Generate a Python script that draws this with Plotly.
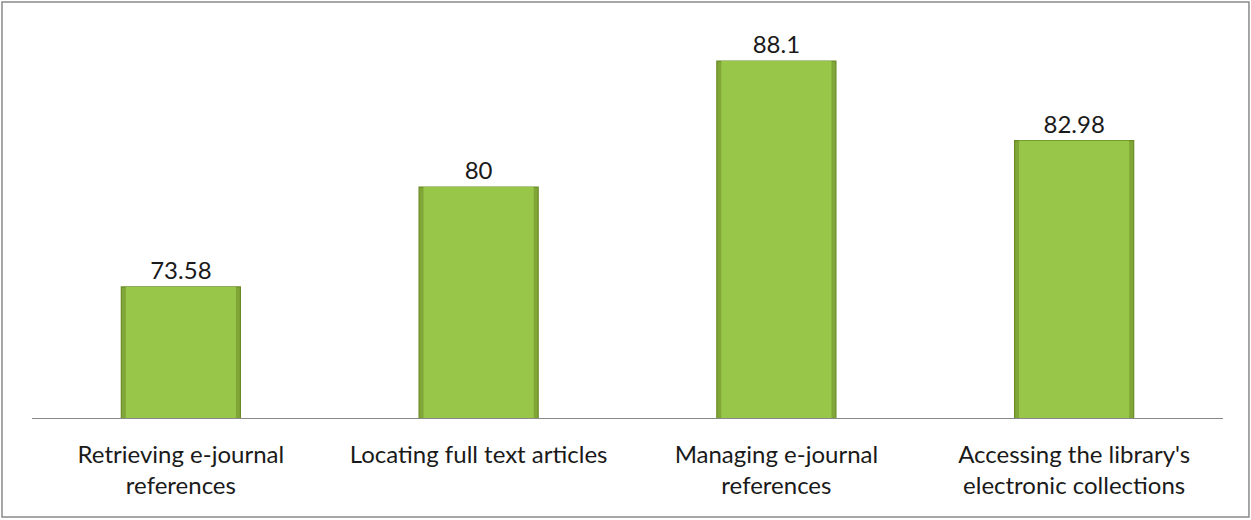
import plotly.graph_objects as go

categories = [
    "Retrieving e-journal<br>references",
    "Locating full text articles",
    "Managing e-journal<br>references",
    "Accessing the library's<br>electronic collections",
]
values = [73.58, 80, 88.1, 82.98]
value_labels = ["73.58", "80", "88.1", "82.98"]

fig = go.Figure()
# outer bar (darker olive edge)
fig.add_trace(go.Bar(
    x=categories,
    y=values,
    width=0.4,
    marker=dict(color="#7FA636", line=dict(color="#6B8C25", width=1.2)),
    text=value_labels,
    textposition="outside",
    textfont=dict(family="Lato", size=24, color="#1a1a1a"),
    cliponaxis=False,
    hoverinfo="skip",
))
# inner lighter body
fig.add_trace(go.Bar(
    x=categories,
    y=values,
    width=0.37,
    marker=dict(color="#98C649", line=dict(width=0)),
    hoverinfo="skip",
))

fig.update_layout(
    width=1251, height=520,
    barmode="overlay",
    margin=dict(l=32, r=28, t=30, b=102),
    paper_bgcolor="white", plot_bgcolor="white",
    showlegend=False,
    font=dict(family="Lato", size=24, color="#1a1a1a"),
    xaxis=dict(showline=True, linecolor="#888888", linewidth=1.2,
               showgrid=False, ticks="", ticklabelstandoff=15,
               tickfont=dict(family="Lato", size=24, color="#1a1a1a")),
    yaxis=dict(range=[65.15, 90.1], visible=False, showgrid=False, zeroline=False),
    shapes=[dict(type="rect", xref="paper", yref="paper",
                 x0=-0.0252, x1=1.0218, y0=-0.2552, y1=1.0722,
                 line=dict(color="#8a8a8a", width=1.5), fillcolor="rgba(0,0,0,0)")],
)

fig.write_html("out.html", config={"displayModeBar": False},
               post_script="document.body.style.margin='0';")
